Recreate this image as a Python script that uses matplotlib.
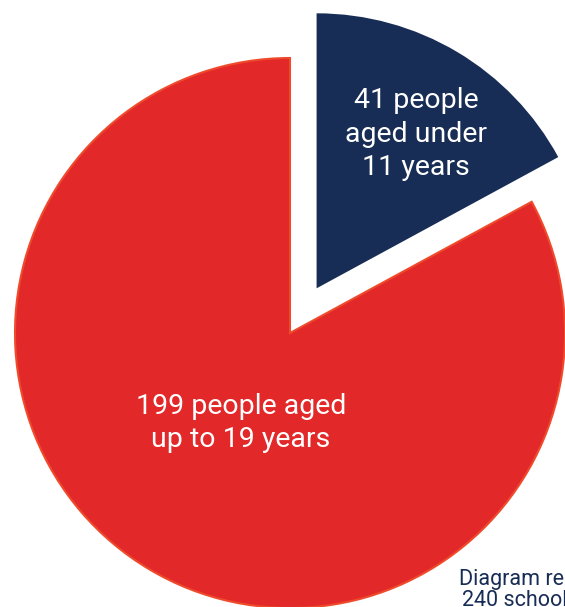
import matplotlib
matplotlib.use("Agg")
import matplotlib.pyplot as plt

values = [41, 199]
labels = ["41 people\naged under\n11 years", "199 people aged\nup to 19 years"]
colors = ["#182D55", "#E22828"]
note = "Diagram represents\n240 schoolchildren"

fam = ["Roboto", "DejaVu Sans"]

fig = plt.figure(figsize=(5.65, 6.07), dpi=100)
ax = fig.add_axes([0, 0, 1, 1])

wedges, _ = ax.pie(values, colors=colors, startangle=90, counterclock=False,
                   explode=[52, 0], radius=275, center=(290, 274),
                   frame=True)
wedges[1].set_edgecolor("#EF4A2C")
wedges[1].set_linewidth(1.5)
wedges[0].set_edgecolor("none")
ax.set_xlim(0, 565)
ax.set_ylim(0, 607)
ax.set_aspect("equal")
ax.axis("off")

ax.text(416, 607 - 134, labels[0], ha="center", va="center", color="white",
        fontsize=20.5, family=fam, linespacing=1.3)
ax.text(241, 607 - 423, labels[1], ha="center", va="center", color="white",
        fontsize=20.5, family=fam, linespacing=1.3)
ax.text(553, 607 - 590, note, ha="center", va="center", color="#182D55",
        fontsize=15.5, family=fam, linespacing=1.05)

fig.savefig("out.png", dpi=100)
